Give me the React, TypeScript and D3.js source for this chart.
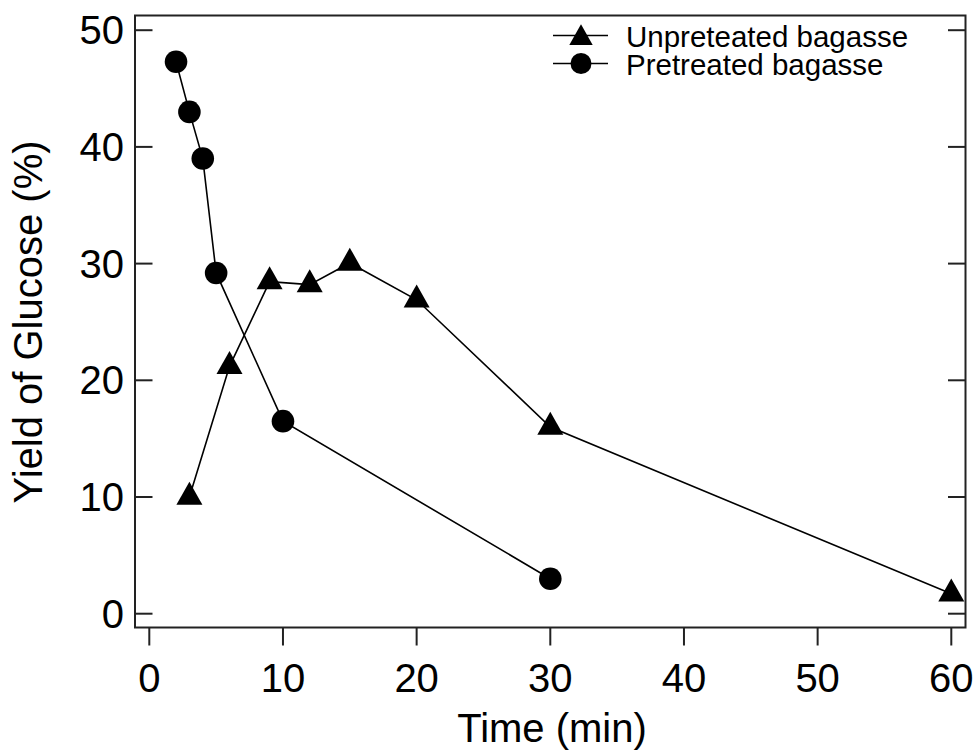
import React from "react";
import * as d3 from "d3";

const unpretreatedTime = [3, 6, 9, 12, 15, 20, 30, 60];
const unpretreatedYield = [10.0, 21.2, 28.45, 28.2, 30.05, 26.9, 16.0, 1.7];
const pretreatedTime = [2, 3, 4, 5, 10, 30];
const pretreatedYield = [47.3, 43.0, 39.0, 29.2, 16.5, 3.0];
const xTicks = [0, 10, 20, 30, 40, 50, 60];
const yTicks = [0, 10, 20, 30, 40, 50];
const seriesNames = ["Unpreteated bagasse", "Pretreated bagasse"];

const W = 975;
const H = 751;
const frame = { left: 135, top: 15.5, right: 965.5, bottom: 627.5 };
const FONT = "'Liberation Sans', Arial, sans-serif";

function triPath(cx: number, cy: number, s: number) {
  const h = 23 * s;
  const hw = 13 * s;
  return `M${cx},${cy - (2 / 3) * h}L${cx + hw},${cy + h / 3}L${cx - hw},${cy + h / 3}Z`;
}

export default function App() {
  const x = d3.scaleLinear().domain([0, 60]).range([149.3, 951.3]);
  const y = d3.scaleLinear().domain([0, 50]).range([613.7, 30.2]);
  const line = d3
    .line<[number, number]>()
    .x((d) => x(d[0]))
    .y((d) => y(d[1]));
  const uData: [number, number][] = unpretreatedTime.map((t, i) => [t, unpretreatedYield[i]]);
  const pData: [number, number][] = pretreatedTime.map((t, i) => [t, pretreatedYield[i]]);

  return (
    <svg
      width={W}
      height={H}
      style={{ position: "absolute", left: 0, top: 0, background: "#fff" }}
      fontFamily={FONT}
    >
      <rect x={0} y={0} width={W} height={H} fill="#fff" />
      <rect
        x={frame.left}
        y={frame.top}
        width={frame.right - frame.left}
        height={frame.bottom - frame.top}
        fill="none"
        stroke="#222"
        strokeWidth={2}
      />
      {yTicks.map((t) => (
        <g key={"y" + t}>
          <line x1={frame.left} x2={frame.left + 17.5} y1={y(t)} y2={y(t)} stroke="#222" strokeWidth={2} />
          <line x1={frame.right - 17.5} x2={frame.right} y1={y(t)} y2={y(t)} stroke="#222" strokeWidth={2} />
          <text x={124} y={y(t) + 14} textAnchor="end" fontSize={40} fill="#000">
            {t}
          </text>
        </g>
      ))}
      {xTicks.map((t) => (
        <g key={"x" + t}>
          <line x1={x(t)} x2={x(t)} y1={frame.bottom} y2={frame.bottom + 18} stroke="#222" strokeWidth={2} />
          <text x={x(t)} y={691.5} textAnchor="middle" fontSize={40} fill="#000">
            {t}
          </text>
        </g>
      ))}
      <text x={552} y={742} textAnchor="middle" fontSize={40} fill="#000">
        Time (min)
      </text>
      <text
        transform={`translate(42,322) rotate(-90)`}
        textAnchor="middle"
        fontSize={40}
        fill="#000"
      >
        Yield of Glucose (%)
      </text>
      <path d={line(uData) || ""} fill="none" stroke="#000" strokeWidth={1.6} />
      <path d={line(pData) || ""} fill="none" stroke="#000" strokeWidth={1.6} />
      {uData.map((d, i) => (
        <path key={"u" + i} d={triPath(x(d[0]), y(d[1]), 1)} fill="#000" />
      ))}
      {pData.map((d, i) => (
        <circle key={"p" + i} cx={x(d[0])} cy={y(d[1])} r={11.3} fill="#000" />
      ))}
      <g>
        <line x1={553} x2={608} y1={35.5} y2={35.5} stroke="#000" strokeWidth={1.6} />
        <path d={triPath(581, 38, 0.9)} fill="#000" />
        <text x={626} y={46.5} fontSize={29.5} fill="#000">
          {seriesNames[0]}
        </text>
        <line x1={553} x2={608} y1={63.5} y2={63.5} stroke="#000" strokeWidth={1.6} />
        <circle cx={581} cy={63.5} r={10.5} fill="#000" />
        <text x={626} y={75} fontSize={29.5} fill="#000">
          {seriesNames[1]}
        </text>
      </g>
    </svg>
  );
}
